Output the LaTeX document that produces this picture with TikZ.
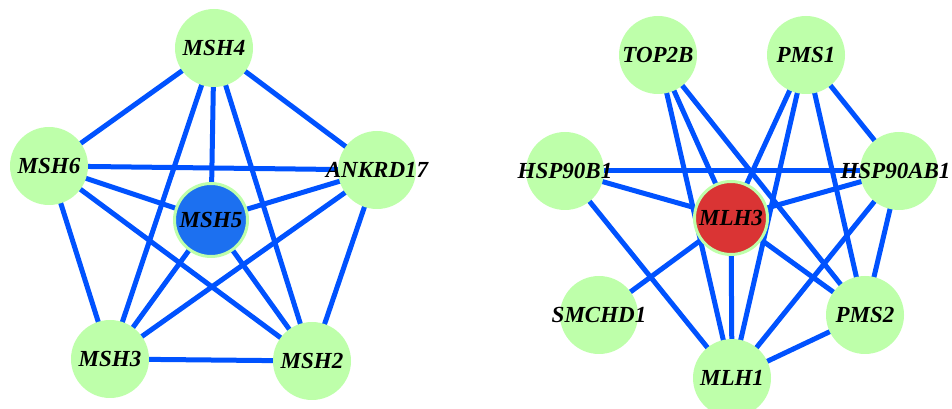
\documentclass[tikz,border=0pt]{standalone}
\usepackage{fontspec}
\setmainfont{Liberation Serif}
\usetikzlibrary{backgrounds}
\definecolor{nodegreen}{RGB}{190,255,170}
\definecolor{edgeblue}{RGB}{0,82,255}
\definecolor{hubblue}{RGB}{28,112,240}
\definecolor{hubred}{RGB}{218,52,52}
% gene names are zero-width so long names do not enlarge the circles
\newcommand{\gname}[1]{\makebox[0pt][c]{#1}}
\begin{document}
\begin{tikzpicture}[x=1pt,y=1pt,
  gene/.style={circle, fill=nodegreen, minimum size=78pt, inner sep=0pt,
    font=\fontsize{23}{23}\selectfont\bfseries\itshape},
  hub/.style={gene, draw=nodegreen, line width=3pt, minimum size=73pt},
  link/.style={draw=edgeblue, line width=5pt}]
\useasboundingbox (0,0) rectangle (952,409);

% MSH5 network
\node[gene] (msh4) at (214,361) {\gname{MSH4}};
\node[gene] (msh6) at (49,243) {\gname{MSH6}};
\node[gene] (ankrd17) at (377,239) {\gname{ANKRD17}};
\node[hub, fill=hubblue] (msh5) at (211,189) {\gname{MSH5}};
\node[gene] (msh3) at (110,50) {\gname{MSH3}};
\node[gene] (msh2) at (312,48) {\gname{MSH2}};

% MLH3 network
\node[gene] (top2b) at (658,354) {\gname{TOP2B}};
\node[gene] (pms1) at (806,354) {\gname{PMS1}};
\node[gene] (hsp90b1) at (565,238) {\gname{HSP90B1}};
\node[gene] (hsp90ab1) at (899,238) {\gname{HSP90AB1\hspace{7pt}}};
\node[hub, fill=hubred] (mlh3) at (731,191) {\gname{MLH3}};
\node[gene] (smchd1) at (599,94) {\gname{SMCHD1}};
\node[gene] (pms2) at (865,94) {\gname{PMS2}};
\node[gene] (mlh1) at (732,31) {\gname{MLH1}};

\begin{scope}[on background layer]
  \foreach \a/\b in {msh4/msh6, msh4/ankrd17, msh4/msh5, msh4/msh3, msh4/msh2,
      msh6/ankrd17, msh6/msh5, msh6/msh3, msh6/msh2,
      ankrd17/msh5, ankrd17/msh3, ankrd17/msh2,
      msh5/msh3, msh5/msh2, msh3/msh2,
      top2b/mlh1, top2b/mlh3, top2b/pms2,
      pms1/mlh3, pms1/mlh1, pms1/pms2, pms1/hsp90ab1,
      hsp90b1/hsp90ab1, hsp90b1/mlh3, hsp90b1/mlh1,
      hsp90ab1/mlh3, hsp90ab1/mlh1, hsp90ab1/pms2,
      mlh3/smchd1, mlh3/mlh1, mlh3/pms2, pms2/mlh1}
    \draw[link] (\a.center) -- (\b.center);
\end{scope}
\end{tikzpicture}
\end{document}
